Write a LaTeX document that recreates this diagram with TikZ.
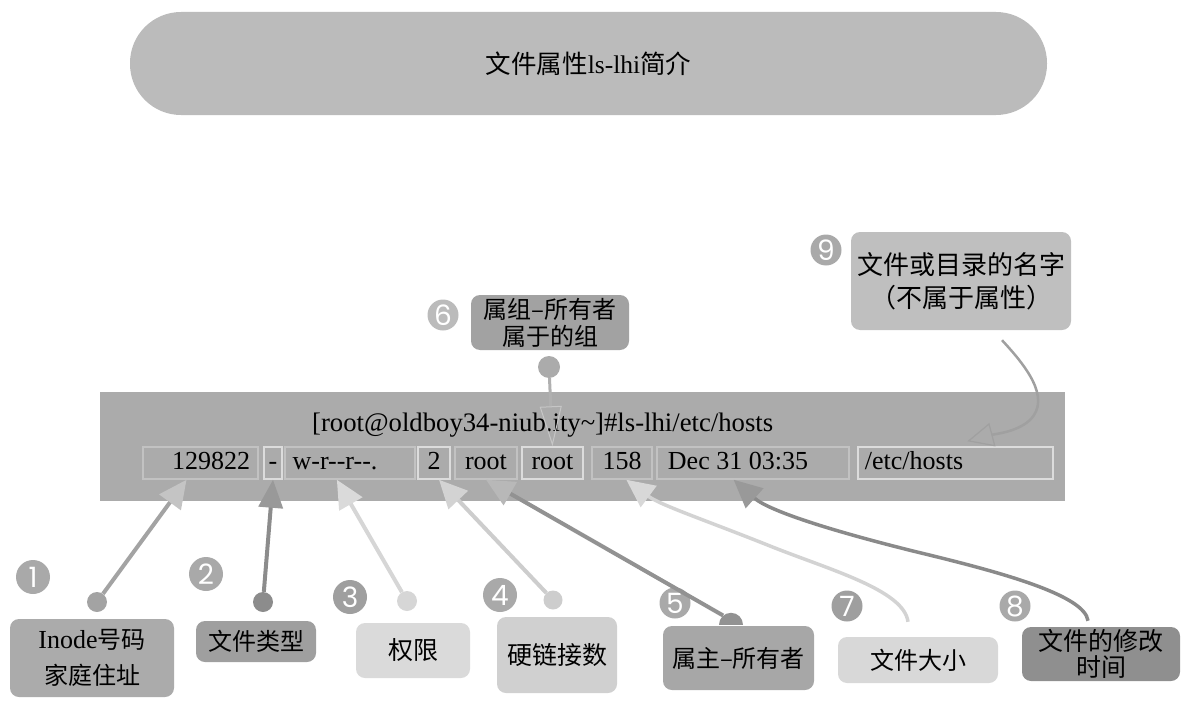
\documentclass[tikz,border=0pt]{standalone}
\usepackage{fontspec}
\setmainfont{Liberation Serif}[Ligatures=TeXOff]
\newfontfamily\cjk{Noto Sans CJK SC}
\newfontfamily\numf{Poppins}
\usetikzlibrary{arrows.meta,calc,shapes.geometric}
\definecolor{titlegray}{HTML}{BBBBBB}
\definecolor{boxgray}{HTML}{ABABAB}
\definecolor{cellline}{HTML}{C2C2C2}
\definecolor{cellhi}{HTML}{DCDCDC}
\definecolor{numgray}{HTML}{A9A9A9}
\definecolor{b1c}{HTML}{ABABAB}
\definecolor{b2c}{HTML}{9F9F9F}
\definecolor{b3c}{HTML}{DADADA}
\definecolor{b4c}{HTML}{D0D0D0}
\definecolor{b5c}{HTML}{A7A7A7}
\definecolor{b6c}{HTML}{A2A2A2}
\definecolor{b7c}{HTML}{D8D8D8}
\definecolor{b8c}{HTML}{8F8F8F}
\definecolor{b9c}{HTML}{BFBFBF}
\definecolor{l1}{HTML}{A3A3A3}\definecolor{h1}{HTML}{C4C4C4}
\definecolor{l2}{HTML}{8C8C8C}\definecolor{h2}{HTML}{999999}
\definecolor{l3}{HTML}{D6D6D6}\definecolor{h3}{HTML}{DADADA}
\definecolor{l4}{HTML}{CDCDCD}\definecolor{h4}{HTML}{D3D3D3}
\definecolor{l5}{HTML}{929292}\definecolor{h5}{HTML}{B8B8B8}
\definecolor{l6}{HTML}{B0B0B0}\definecolor{h6}{HTML}{C6C6C6}
\definecolor{l7}{HTML}{D3D3D3}\definecolor{h7}{HTML}{D8D8D8}
\definecolor{l8}{HTML}{8A8A8A}\definecolor{h8}{HTML}{999999}
\definecolor{l9}{HTML}{A0A0A0}\definecolor{h9}{HTML}{A0A0A0}
\begin{document}
\begin{tikzpicture}[x=1pt,y=-1pt,
  cjkbox/.style={rounded corners=9pt, align=center, inner sep=0pt, text=black},
  num/.style={circle, fill=numgray, text=white, inner sep=0pt, minimum size=#1, font=\numf\fontsize{28}{28}\selectfont},
  num/.default=34pt,
  dotn/.style={circle, inner sep=0pt, minimum size=20pt, fill=#1},
  cell/.style={draw=cellline, line width=1.5pt, fill=boxgray, minimum height=32pt, inner sep=0pt, text height=17pt, text depth=4pt, font=\fontsize{26}{26}\selectfont},
  conn/.style={line width=4pt, draw=#1},
]
\useasboundingbox (0,0) rectangle (1189,709);

% title
\node[fill=titlegray, rounded corners=51pt, minimum width=917pt, minimum height=103pt, inner sep=0pt, font=\cjk\fontsize{25.5}{25.5}\selectfont] (title) at (588.5,63.5) {文件属性{\rmfamily ls-lhi}简介};

% panel
\node[fill=boxgray, minimum width=965pt, minimum height=109pt, inner sep=0pt] (panel) at (582.5,446.5) {};
\node[anchor=base west, inner sep=0pt, font=\fontsize{26.7}{26.7}\selectfont] (cmd) at (312,431) {[root@oldboy34-niub.ity\textasciitilde]\#ls-lhi/etc/hosts};

% cells
\node[cell, minimum width=115pt] (c1) at (200.5,463) {\hspace*{21pt}129822};
\node[cell, draw=cellhi, minimum width=18pt] (c2) at (273,463) {-};
\node[cell, minimum width=130pt] (c3) at (350,463) {w-r--r--.\hspace*{30pt}};
\node[cell, draw=cellhi, minimum width=32pt] (c4) at (434,463) {2};
\node[cell, minimum width=62pt] (c5) at (486,463) {root};
\node[cell, draw=cellhi, minimum width=61pt] (c6) at (552.5,463) {root};
\node[cell, minimum width=60pt] (c7) at (622,463) {158};
\node[cell, minimum width=192pt] (c8) at (753,463) {Dec 31 03:35\hspace*{30pt}};
\node[cell, draw=cellhi, minimum width=195pt] (c9) at (955.5,463) {/etc/hosts\hspace*{83pt}};

% callout boxes
\node[cjkbox, fill=b1c, minimum width=164pt, minimum height=78pt, font=\cjk\fontsize{24}{36}\selectfont] (b1) at (92,658) {{\rmfamily\fontsize{26}{36}\selectfont Inode}号码\\家庭住址};
\node[cjkbox, fill=b2c, minimum width=120pt, minimum height=41pt, font=\cjk\fontsize{24}{28}\selectfont] (b2) at (256,641.5) {文件类型};
\node[cjkbox, fill=b3c, minimum width=114pt, minimum height=55pt, font=\cjk\fontsize{25}{28}\selectfont] (b3) at (413,650.5) {权限};
\node[cjkbox, fill=b4c, minimum width=120pt, minimum height=76pt, font=\cjk\fontsize{25}{28}\selectfont] (b4) at (557,655) {硬链接数};
\node[cjkbox, fill=b5c, minimum width=151pt, minimum height=64pt, font=\cjk\fontsize{24}{28}\selectfont] (b5) at (738.5,658) {属主–所有者};
\node[cjkbox, fill=b7c, minimum width=160pt, minimum height=46pt, font=\cjk\fontsize{24}{28}\selectfont] (b7) at (918,660) {文件大小};
\node[cjkbox, fill=b8c, minimum width=158pt, minimum height=54pt, font=\cjk\fontsize{25}{26}\selectfont] (b8) at (1101,654) {文件的修改\\时间};
\node[cjkbox, fill=b6c, minimum width=158pt, minimum height=55pt, font=\cjk\fontsize{24}{27}\selectfont] (b6) at (550,322.5) {属组–所有者\\属于的组};
\node[cjkbox, fill=b9c, minimum width=220pt, minimum height=98pt, font=\cjk\fontsize{26}{33}\selectfont] (b9) at (961,281) {文件或目录的名字\\（不属于属性）};

% number badges
\node[num] (n1) at (33,577) {1};
\node[num] (n2) at (206,574) {2};
\node[num, fill=b2c] (n3) at (350,597) {3};
\node[num] (n4) at (500,595) {4};
\node[num=31pt] (n5) at (675,603) {5};
\node[num=31pt, fill=b2c] (n7) at (847,606) {7};
\node[num=31pt] (n8) at (1015,606) {8};
\node[num=31pt, fill=titlegray] (n6) at (443,315) {6};
\node[num=31pt] (n9) at (826,250) {9};

% dots
\node[dotn=l1] (d1) at (97,602) {};
\node[dotn=l2] (d2) at (263,602) {};
\node[dotn=l3] (d3) at (407,601) {};
\node[dotn=l4, minimum size=19pt] (d4) at (553,600) {};
\node[semicircle, fill=l5, inner sep=0pt, minimum width=24pt, minimum height=12pt, anchor=chord center] (d5) at (731,625) {};
\node[dotn=boxgray, minimum size=22pt] (d6) at (549,367) {};

% end points
\coordinate (t1) at ($(c1.south west)!0.38!(c1.south east)$);
\coordinate (t3) at ($(c3.south west)!0.40!(c3.south east)$);
\coordinate (t4) at ($(c4.south west)!0.65!(c4.south east)$);
\coordinate (t7) at ($(c7.south west)!0.57!(c7.south east)$);
\coordinate (t8) at ($(c8.south west)!0.40!(c8.south east)$);
\coordinate (t9) at ($(c9.north west)!0.56!(c9.north east)+(0,-5)$);
\coordinate (s7) at ($(b7.north)+(-10,-15)$);
\coordinate (s8) at ($(b8.north)+(-13,-6)$);
\coordinate (s9) at ($(b9.south)+(41,10)$);

% connectors
\draw[conn=l1, -{Triangle[width=26pt,length=28pt,color=h1]}] (d1) -- (t1);
\draw[conn=l2, -{Triangle[width=24pt,length=28pt,color=h2]}] (d2) -- (c2.south);
\draw[conn=l3, -{Triangle[width=26pt,length=28pt,color=h3]}] (d3) -- (t3);
\draw[conn=l4, -{Triangle[width=26pt,length=28pt,color=h4]}] (d4) -- (t4);
\draw[conn=l5, -{Triangle[width=26pt,length=28pt,color=h5]}] (d5) -- (c5.south);
\draw[conn=l6, line width=3pt, -{Triangle[open,width=22pt,length=40pt,color=h6,line width=1pt]}] (d6) -- (c6.north);
\draw[conn=l7, line width=3.5pt, -{Triangle[width=26pt,length=28pt,color=h7]}] (s7) .. controls (904,590) and (830,570) .. (770,546) .. controls (705,520) and (660,505) .. (t7);
\draw[conn=l8, line width=3.5pt, -{Triangle[width=26pt,length=28pt,color=h8]}] (s8) .. controls (1085,595) and (1000,572) .. (917,552) .. controls (840,533) and (770,512) .. (t8);
\draw[conn=l9, line width=2.5pt, -{Triangle[open,width=24pt,length=26pt,color=h9,line width=1.2pt]}] (s9) .. controls (1025,365) and (1052,398) .. (1030,420) .. controls (1017,432) and (995,434) .. (t9);
\end{tikzpicture}
\end{document}
